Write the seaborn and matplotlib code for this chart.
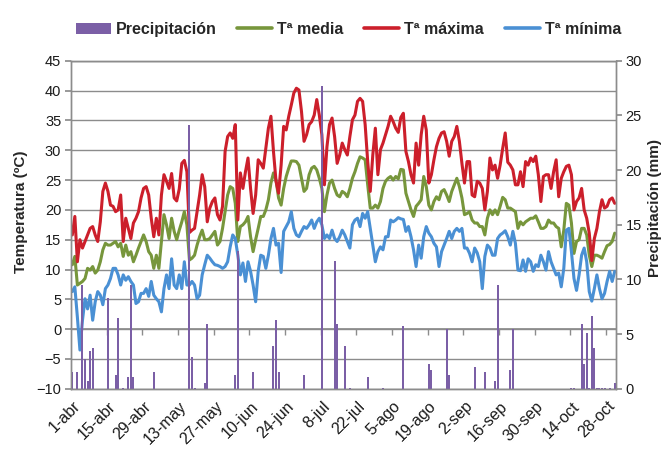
import numpy as np
import pandas as pd
import matplotlib
matplotlib.use("Agg")
import matplotlib.pyplot as plt
from matplotlib.lines import Line2D
from matplotlib.patches import Patch
import seaborn as sns

# daily values, 1-abr .. 31-oct (214 days)
t_max = [
    15.8, 18.9, 11.3, 15.0, 13.6, 14.7, 15.8, 16.9, 17.2, 15.8,
    14.7, 18.0, 23.1, 24.5, 23.1, 20.8, 20.6, 19.7, 20.0, 22.5,
    14.7, 18.6, 16.9, 15.2, 17.8, 18.6, 19.7, 22.0, 23.6, 23.9,
    22.5, 18.6, 15.5, 18.6, 15.8, 22.5, 25.9, 24.8, 23.6, 26.1,
    22.0, 21.5, 23.5, 27.8, 28.3, 26.4, 16.2, 16.6, 16.9, 19.7,
    22.5, 25.9, 23.9, 18.0, 20.3, 21.4, 22.0, 19.2, 18.3, 20.6,
    29.8, 32.3, 32.9, 32.0, 34.3, 18.3, 26.2, 23.6, 26.4, 28.7,
    23.6, 19.4, 22.5, 28.4, 27.8, 27.0, 30.3, 33.7, 35.7, 29.8,
    24.8, 22.8, 27.5, 34.0, 33.4, 35.7, 37.6, 39.6, 40.4, 40.1,
    36.5, 31.5, 32.6, 34.3, 34.8, 35.9, 38.5, 35.9, 32.6, 24.2,
    30.6, 34.3, 35.4, 32.3, 27.8, 29.2, 31.2, 30.1, 29.2, 32.3,
    35.1, 35.9, 38.2, 38.7, 38.2, 34.3, 28.1, 23.1, 29.2, 33.7,
    25.9, 30.1, 31.2, 32.6, 34.0, 35.7, 34.8, 33.7, 33.0, 35.5,
    36.2, 29.8, 28.1, 25.9, 24.5, 31.2, 27.5, 32.6, 35.7, 33.4,
    24.5, 25.9, 28.4, 30.6, 32.0, 32.9, 33.1, 31.5, 29.0, 31.5,
    32.3, 34.0, 31.5, 27.8, 24.5, 28.1, 28.1, 22.5, 22.2, 24.8,
    24.5, 23.6, 20.0, 23.1, 28.7, 26.7, 27.5, 25.3, 27.5, 30.3,
    32.9, 28.0, 27.5, 26.7, 24.2, 24.2, 26.4, 23.9, 28.1, 27.5,
    28.7, 28.1, 29.0, 25.9, 21.4, 25.6, 25.9, 25.9, 23.6, 26.4,
    28.4, 22.2, 25.3, 26.4, 27.3, 27.5, 25.9, 20.0, 21.4, 22.0,
    23.6, 20.0, 18.6, 16.1, 11.5, 15.2, 16.9, 19.7, 21.7, 20.3,
    20.6, 21.7, 22.0, 21.1,
]
t_mean = [
    10.8, 12.2, 7.4, 7.7, 8.0, 8.5, 10.2, 9.9, 10.5, 9.4,
    9.9, 11.3, 13.3, 14.4, 14.1, 14.1, 14.4, 14.7, 13.8, 14.4,
    12.2, 14.1, 12.4, 13.0, 11.3, 12.4, 13.6, 14.7, 15.8, 14.7,
    13.0, 12.4, 10.2, 12.4, 10.2, 14.7, 19.2, 17.5, 15.2, 18.6,
    16.4, 15.0, 16.6, 18.0, 19.7, 17.5, 11.6, 11.9, 12.4, 14.1,
    15.5, 16.6, 15.0, 15.0, 15.2, 15.8, 16.4, 14.1, 14.7, 16.9,
    19.7, 22.5, 23.9, 23.6, 21.1, 14.7, 17.2, 17.5, 18.0, 18.9,
    15.5, 13.0, 15.0, 16.9, 18.9, 18.9, 20.0, 21.7, 24.5, 26.2,
    25.0, 22.0, 20.8, 23.6, 25.6, 27.0, 28.2, 28.2, 28.1, 27.5,
    25.3, 23.1, 23.6, 25.9, 27.0, 27.3, 26.7, 25.3, 23.6, 19.7,
    22.5, 24.5, 25.0, 23.6, 22.5, 22.2, 23.1, 22.8, 22.2, 23.6,
    25.3, 26.4, 27.8, 28.9, 28.7, 28.4, 24.2, 20.3, 20.3, 20.8,
    20.3, 21.4, 23.6, 24.8, 25.3, 25.6, 25.0, 25.6, 25.2, 26.8,
    26.7, 22.8, 21.4, 20.0, 18.9, 20.6, 21.1, 21.7, 25.6, 23.9,
    20.8, 20.0, 21.4, 22.2, 21.7, 23.1, 23.4, 22.5, 21.4, 23.1,
    24.2, 25.3, 23.9, 22.0, 19.2, 19.4, 19.7, 18.3, 17.8, 17.8,
    17.2, 17.2, 15.8, 18.6, 20.0, 19.2, 20.0, 19.2, 20.6, 22.1,
    21.7, 20.3, 20.3, 20.0, 19.7, 16.9, 18.0, 17.5, 18.0, 18.3,
    18.6, 18.6, 19.0, 18.0, 16.9, 16.9, 17.2, 18.3, 17.8, 17.8,
    17.2, 16.9, 13.8, 16.6, 21.1, 20.8, 17.8, 12.7, 14.7, 15.0,
    16.9, 16.9, 15.8, 12.4, 10.5, 12.4, 12.4, 12.2, 11.9, 13.0,
    14.0, 14.2, 14.7, 16.1,
]
t_min = [
    6.3, 7.1, 2.0, -3.5, 1.5, 5.1, 3.4, 5.7, 1.5, 4.6,
    6.3, 5.7, 4.1, 6.8, 7.4, 8.5, 10.2, 10.2, 9.1, 7.4,
    9.1, 8.2, 8.8, 8.0, 7.4, 4.3, 4.6, 6.0, 6.0, 6.8,
    5.5, 8.0, 5.7, 5.1, 4.6, 2.9, 6.8, 9.1, 6.8, 11.8,
    7.4, 6.8, 9.1, 6.8, 11.3, 7.4, 7.4, 8.0, 7.4, 5.1,
    5.7, 9.1, 10.8, 12.4, 11.9, 11.3, 10.8, 10.7, 10.5, 10.2,
    10.5, 11.3, 13.8, 15.8, 15.2, 12.4, 9.1, 11.1, 8.0, 11.3,
    9.7, 7.4, 4.6, 9.7, 12.4, 12.2, 10.2, 12.4, 15.2, 16.9,
    14.1, 14.4, 9.5, 16.4, 17.2, 18.0, 19.7, 16.9, 15.8, 15.5,
    16.4, 17.2, 16.9, 17.5, 18.3, 16.9, 18.0, 18.6, 17.5, 15.2,
    15.8, 15.2, 16.6, 15.2, 14.7, 15.5, 16.6, 15.8, 14.7, 13.6,
    17.5, 18.3, 18.6, 17.2, 19.4, 18.6, 19.7, 16.9, 14.1, 11.3,
    13.0, 13.8, 13.3, 15.5, 15.5, 18.3, 18.0, 18.3, 18.7, 18.5,
    18.4, 16.4, 17.2, 15.5, 13.3, 10.5, 14.1, 11.9, 15.5, 17.2,
    16.1, 15.5, 14.4, 13.8, 10.5, 13.0, 14.1, 15.2, 16.4, 15.2,
    16.4, 16.9, 16.4, 16.9, 13.6, 13.6, 12.7, 11.3, 13.6, 12.8,
    11.3, 6.8, 12.2, 14.1, 13.6, 12.4, 12.4, 15.2, 15.8, 16.1,
    16.5, 15.5, 14.1, 16.4, 14.4, 9.9, 9.8, 11.6, 9.7, 11.8,
    11.3, 9.7, 10.8, 10.5, 12.4, 11.3, 9.9, 13.0, 11.3, 10.2,
    9.1, 9.4, 7.1, 10.2, 16.6, 16.9, 13.0, 8.5, 6.5, 9.1,
    12.4, 13.6, 11.3, 6.3, 4.7, 6.8, 9.1, 6.8, 5.1, 6.0,
    8.0, 9.7, 8.0, 9.7,
]

# rainy days only (day index from 1-abr) and amount in mm
rain_day = [0, 2, 4, 5, 6, 7, 8, 14, 17, 18, 20, 22, 23, 24, 32, 46, 47, 48,
            52, 53, 64, 65, 71, 79, 80, 81, 91, 98, 103, 104, 107, 109, 116,
            122, 130, 140, 141, 147, 148, 158, 162, 166, 167, 172, 173, 196,
            197, 200, 201, 202, 203, 204, 205, 206, 207, 208, 209, 211, 213]
rain_mm = [1.5, 1.5, 9.5, 2.7, 0.7, 3.5, 3.7, 8.3, 1.3, 6.5, 0.1, 1.1, 9.5,
           1.1, 1.5, 24.1, 2.9, 0.1, 0.5, 5.9, 1.3, 12.6, 1.5, 3.9, 6.3, 1.5,
           1.3, 27.7, 11.7, 5.9, 3.9, 0.1, 1.1, 0.1, 5.7, 2.3, 1.7, 5.5, 1.3,
           2.0, 1.5, 0.7, 9.5, 1.7, 5.5, 0.1, 0.1, 5.9, 2.3, 5.1, 0.1, 6.7,
           3.7, 0.1, 0.1, 0.1, 0.1, 0.1, 0.5]

tick_days = [0, 14, 28, 42, 56, 70, 84, 98, 112, 126, 140, 154, 168, 182, 196, 210]
tick_labels = ["1-abr", "15-abr", "29-abr", "13-may", "27-may", "10-jun",
               "24-jun", "8-jul", "22-jul", "5-ago", "19-ago", "2-sep",
               "16-sep", "30-sep", "14-oct", "28-oct"]

series = ["Tª media", "Tª máxima", "Tª mínima"]
colors = {"Tª media": "#77963C", "Tª máxima": "#CC1F2B", "Tª mínima": "#4A90D4"}
PURPLE = "#7B5FA6"
GRID = "#8C8C8C"

sns.set_theme(style="white")
plt.rcParams["font.family"] = ["Liberation Sans", "DejaVu Sans"]

days = np.arange(len(t_max))
temps = pd.DataFrame({"dia": days, "Tª media": t_mean,
                      "Tª máxima": t_max, "Tª mínima": t_min})
temps = temps.melt(id_vars="dia", var_name="serie", value_name="temp")
rain = pd.DataFrame({"dia": rain_day, "mm": rain_mm})

fig = plt.figure(figsize=(6.7, 4.5), dpi=100)
ax = fig.add_axes([0.106, 0.136, 0.8134, 0.7289])

sns.lineplot(data=temps, x="dia", y="temp", hue="serie", hue_order=series,
             palette=colors, linewidth=2.2, legend=False, ax=ax)

ax2 = ax.twinx()
sns.barplot(data=rain, x="dia", y="mm", native_scale=True, width=0.8,
            color=PURPLE, saturation=1, linewidth=0, errorbar=None, ax=ax2)

# left axis: temperature
ax.set_ylim(-10, 45)
ax.set_yticks(range(-10, 46, 5))
ax.yaxis.grid(True, color=GRID, linewidth=1)
ax.set_axisbelow(True)
ax.tick_params(axis="y", length=4, color=GRID, labelsize=10.5, pad=3,
               labelcolor="#1a1a1a")
ax.set_ylabel("Temperatura (ºC)", fontsize=11, fontweight="bold")
ax.yaxis.set_label_coords(-0.079, 0.54)

# shared x axis: day categories
ax.set_xlim(-0.5, len(t_max) - 0.5)
ax.set_xticks(tick_days)
ax.set_xticklabels(tick_labels, rotation=45, ha="right",
                   rotation_mode="anchor", fontsize=11.5, color="#1a1a1a")
ax.tick_params(axis="x", length=0, pad=7)
ax.set_xlabel("")

# excel-style category axis crossing at 0 ºC, ticks every 14 days
cross = ax.secondary_xaxis(10 / 55)
cross.set_xticks(np.arange(13.5, len(t_max), 14))
cross.tick_params(axis="x", length=4, color=GRID, width=1,
                  labelbottom=False, labeltop=False)
cross.spines["bottom"].set_color(GRID)

# right axis: precipitation
ax2.set_ylim(0, 30)
ax2.set_yticks(range(0, 31, 5))
ax2.tick_params(axis="y", length=4, color=GRID, labelsize=10.5, pad=3,
                labelcolor="#1a1a1a")
ax2.set_ylabel("Precipitación (mm)", fontsize=11, fontweight="bold")
ax2.yaxis.set_label_coords(1.058, 0.55)
ax2.set_xlim(-0.5, len(t_max) - 0.5)

for a in (ax, ax2):
    for side in a.spines.values():
        side.set_color(GRID)
        side.set_linewidth(1)

handles = [Patch(facecolor=PURPLE, edgecolor="none")]
handles += [Line2D([], [], color=colors[s], linewidth=2.6) for s in series]
fig.legend(handles, ["Precipitación"] + series, loc="center",
           bbox_to_anchor=(0.52, 0.935), ncol=4, frameon=False,
           prop={"weight": "bold", "size": 11.5}, handlelength=2.2,
           handletextpad=0.3, columnspacing=1.3)

fig.savefig("out.png", dpi=100)
plt.close(fig)
